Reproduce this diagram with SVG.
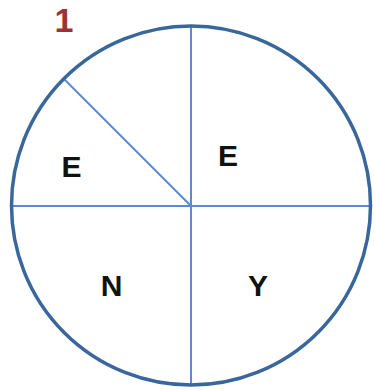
<svg xmlns="http://www.w3.org/2000/svg" width="375" height="390" viewBox="0 0 375 390">
<style>
.lbl{font-family:"Liberation Sans",Arial,sans-serif;font-weight:bold;font-size:30px;fill:#111;text-anchor:middle}
.div{stroke:#5B8AD0;stroke-width:2;fill:none}
</style>
<rect width="375" height="390" fill="#fff"/>
<text x="64" y="32" style="font-family:'Liberation Sans',Arial,sans-serif;font-weight:bold;font-size:34px;fill:#9A3535" text-anchor="middle">1</text>
<g id="connectors">
<line class="div" x1="191" y1="26" x2="191" y2="385"/>
<line class="div" x1="11" y1="206" x2="371" y2="206"/>
<line class="div" x1="191" y1="206" x2="64" y2="79"/>
</g>
<g id="circle"><circle cx="191" cy="205.5" r="179.5" fill="none" stroke="#3A679B" stroke-width="3.5"/></g>
<g id="sector-e1"><text class="lbl" x="71.5" y="177">E</text></g>
<g id="sector-e2"><text class="lbl" x="228" y="166">E</text></g>
<g id="sector-n"><text class="lbl" x="111.5" y="296">N</text></g>
<g id="sector-y"><text class="lbl" x="258" y="296">Y</text></g>
</svg>
